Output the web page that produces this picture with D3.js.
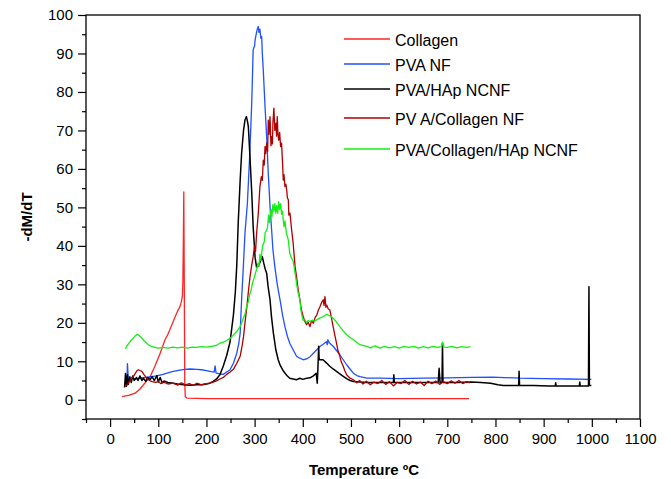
<!DOCTYPE html>
<html>
<head>
<meta charset="utf-8">
<script src="https://cdn.jsdelivr.net/npm/d3@7"></script>
<style>
  html, body { margin: 0; padding: 0; background: #fff; }
  svg { display: block; }
  text { font-family: "Liberation Sans", Arial, sans-serif; }
</style>
</head>
<body>
<svg id="chart" width="671" height="479"></svg>
<script>
// DTG curves: temperature (ºC) and -dM/dT for each sample
const seriesNames = ["Collagen", "PVA NF", "PVA/HAp NCNF", "PV A/Collagen NF", "PVA/Collagen/HAp NCNF"];
const seriesColors = ["#ff2424", "#1f4fff", "#000000", "#b00000", "#14ee14"];

const collagen = [
  [25,0.8],[40,1.2],[52,1.7],[62,2.8],[72,4.3],[83,6],[93,8.7],[104,12.1],[114,15.6],[120,17],
  [124,18.2],[130,20],[135,21.6],[140,23],[145,24.2],[148,25.5],[150,27],[151,30],[152,40],[153,54],
  [154,30],[155,5],[156,0.8],[160,0.4],[200,0.3],[300,0.3],[400,0.3],[500,0.3],[600,0.3],[745,0.3]
];

const pvaNF = [
  [35,4.5],[36,9.4],[38,5.2],[45,5.6],[55,5.4],[62,5.6],[75,5.8],[85,6.0],[97,6.2],[110,6.6],
  [120,7.0],[131,7.4],[145,7.7],[155,7.9],[166,8.0],[180,7.9],[190,7.8],[200,7.6],[210,7.3],[216,7.2],
  [218,8.8],[220,6.9],[228,6.7],[235,6.6],[242,7.2],[249,7.8],[256,9.5],[263,12.1],[267,14.5],[270,17.3],
  [273,26],[276.6,34.6],[280,43.3],[285,51],[290,64],[294,77],[297,91],[300,92],[301,93.5],[304,95.5],
  [306,96.5],[307.7,97],[309,95.5],[311,96.3],[313,94],[314.7,94.4],[316,90],[318,85.7],[321.6,76.2],[325,68.4],
  [328,59.7],[332,50.2],[335.4,44],[338,39],[342,34.6],[347,30],[352.7,26],[358,22],[363,19],[368,16.5],
  [373,14.7],[380,13],[387,11.3],[394,10.8],[401,10.4],[408,10.6],[415,11.2],[422,12.1],[429,13],[436,13.9],
  [443,14.5],[449,15.1],[451,14.3],[452,15.6],[455,14.8],[463,13.9],[470,12.8],[477,11.7],[484,10.4],[491,9.1],
  [498,8],[505,6.9],[512,6.3],[519,6],[533,5.6],[560,5.6],[600,5.5],[650,5.6],[700,5.7],[750,5.8],
  [795,5.9],[850,5.6],[900,5.5],[950,5.4],[999,5.3]
];

const pvaHapNCNF = [
  [30,3.2],[32,6.8],[34,3.5],[36,6.5],[38,4.0],[41,6.0],[44,4.5],[47,6.2],[50,5.0],[55,5.8],
  [58,5.0],[62,6.2],[66,5.0],[69,5.6],[74,4.8],[78,5.8],[83,5.2],[87,6.0],[92,5.0],[97,6.3],
  [100,4.6],[104,5.8],[108,4.4],[112,4.9],[120,4.5],[131,4.3],[140,4.1],[152,3.9],[166,3.8],[180,3.9],
  [190,3.9],[200,4.1],[207,4.3],[214,4.8],[221,5.4],[228,6.5],[235,8.8],[242,11.5],[249,15],[253,19],
  [256,22],[260,28],[263,35],[266,46],[270,57],[273,64],[277,70],[280,72.7],[283,73.6],[285,72.5],
  [287,71],[290,64],[294,54],[297,45],[301,37],[304,34.5],[308,34.8],[312,36],[316,37.2],[319,35.5],
  [322,34],[325,32.9],[328,29.4],[332,26],[335,21.6],[339,17.3],[344,13],[349,10.4],[353,9],[360,7.4],
  [367,6.3],[373,5.6],[380,5.4],[387,5.2],[394,5.6],[400,5.3],[408,5.6],[415,5.7],[422,6.2],[428,6.9],
  [430,4.3],[431,6.8],[433,13.9],[434,10.4],[436,10.4],[442,10.4],[449,9.6],[456,8.7],[463,8],[470,7.4],
  [477,6.7],[484,6.1],[491,5.5],[498,5.0],[505,4.75],[519,4.6],[533,4.5],[560,4.5],[588,4.5],[589,6.5],
  [590,4.5],[620,4.5],[650,4.5],[681,4.5],[683,8.2],[685,4.4],[689,4.6],[690,14.7],[691,4.5],[720,4.5],
  [750,4.6],[770,4.5],[790,4.3],[805,3.9],[816,3.7],[848,3.7],[849,7.4],[850,3.7],[880,3.7],[910,3.6],
  [924,3.6],[925,4.4],[926,3.6],[950,3.6],[974,3.6],[975,4.6],[976,3.6],[993,3.6],[994,29.4],[995,3.7],[999,3.7]
];

const pvaCollagenNF = [
  [30,3.5],[35,3.8],[40,4.8],[44,5.5],[48,6.0],[52,6.8],[56,7.6],[59,7.8],[62,7.6],[66,7.4],
  [70,6.6],[76,5.6],[82,5.0],[87,4.7],[95,4.5],[100,4.8],[105,4.2],[112,4.6],[120,4.1],[131,4.3],
  [140,3.8],[148,4.4],[156,3.9],[165,4.2],[172,3.7],[180,4.3],[190,3.9],[200,4.2],[207,4.3],[214,4.6],
  [221,4.9],[228,5.4],[235,5.8],[242,6.6],[249,7.2],[256,7.9],[263,9.5],[270,11.3],[274,14],[277,16.4],
  [280,20],[284,24.2],[287,28],[290.5,32],[294,35],[297,37.2],[300,40],[302,38.6],[304,43],[307.7,48.5],
  [311,55.4],[314,58],[316,57],[318,62.3],[320,61],[321.6,65.8],[323,64],[325,66.7],[327,64.5],[328.4,72.7],
  [330,69],[332,73.6],[334,66],[335.4,68.4],[337,66.5],[338,72],[340,75.8],[342,70],[344.4,71.9],[345.5,68.5],
  [347,73.6],[348.5,69],[350,67.5],[352,69.5],[354,65.8],[356,66.7],[358,61.5],[359.5,57.1],[361,58.5],[363,55.4],
  [365,56],[366.6,54.5],[368,52.5],[370,52],[371,48],[373.4,48.5],[377,44],[380,40.7],[384,34.6],[387,32],
  [390,29],[394,26],[397,23.5],[401,21.6],[404,20.5],[408,19.5],[411,20.2],[415,19],[418,20.5],[422,19.9],
  [426,21.5],[429,22],[432,23.2],[435.7,24.2],[439,25.3],[442.5,26],[444,24.5],[446,26.8],[448,24],[449.6,24.6],
  [453,23.6],[456,23.4],[460,21],[463,19],[467,16.5],[470,14.7],[473,12.8],[477,11.3],[480,9.8],[484,8.7],
  [487,7.6],[491,6.5],[498,5.6],[505,5.2],[512,4.4],[518,5.0],[525,4.1],[532,4.8],[540,3.9],[548,4.6],
  [556,4.2],[564,5.0],[572,4.0],[580,4.7],[588,3.6],[596,4.5],[604,4.2],[612,5.0],[620,4.0],[628,4.8],
  [636,4.1],[644,4.6],[652,3.7],[660,4.8],[668,4.2],[676,4.9],[684,4.0],[692,4.7],[700,4.2],[708,4.9],
  [716,4.3],[724,5.0],[732,4.2],[740,4.7],[747,4.4]
];

const pvaCollagenHapNCNF = [
  [32,13.2],[35,14],[38,14.5],[42,15.2],[45,15.6],[48,16],[52,16.6],[55,16.9],[58,16.9],[62,16.5],
  [66,16],[70,15.4],[75,14.8],[80,14.2],[85,13.9],[93,13.6],[100,13.4],[110,13.6],[120,13.4],[130,13.7],
  [140,13.5],[150,13.7],[160,13.4],[170,13.7],[180,13.6],[190,13.8],[200,13.7],[210,13.9],[220,14.1],[228,14.7],
  [235,15],[242,15.4],[249,16],[256,16.8],[263,17.8],[270,19],[276,21],[280,22.2],[284,24.6],[287,25.5],
  [290,27.5],[293,28.6],[296,30.5],[299,31.6],[302,33],[304,33.8],[307,35.5],[309,34.6],[311,37.8],[313,36.2],
  [316,39.5],[318,40.5],[320,41],[322,43.5],[325,44],[327,45],[329,48],[331,46],[332,47.6],[334,49.5],
  [336,47.5],[338,50.8],[340,49],[342,51],[344,48.5],[346,50.5],[348,48.5],[350,51.5],[352,49.5],[354,51],
  [356,48.2],[358,49],[360,46],[361,45],[363,46.5],[366,43.3],[368,42.5],[370,41.5],[373,38],[376,37],
  [380,36],[384,33],[387,30.3],[390,28],[394,26],[396,23.5],[398,22],[401,20.6],[404.6,20.8],[408,20],
  [411,20.6],[415,20.3],[420,20.7],[425,20.4],[429,20.8],[435,21.2],[440,21.5],[445,21.8],[449,22.2],[453,22],
  [458,21.7],[463,21.2],[470,20.2],[477,19],[484,17.9],[491,16.9],[498,16.2],[505,15.6],[512,14.9],[519,14.3],
  [526,14.1],[533,13.9],[540,13.5],[550,14],[560,13.4],[570,13.9],[580,13.5],[590,13.8],[600,13.4],[610,13.9],
  [620,13.6],[630,13.9],[640,13.4],[650,13.8],[660,13.5],[670,13.9],[680,13.6],[688,13.8],[690,15],[693,13.7],
  [700,13.6],[710,13.9],[720,13.5],[730,13.8],[740,13.6],[748,13.8]
];

const seriesData = [collagen, pvaNF, pvaHapNCNF, pvaCollagenNF, pvaCollagenHapNCNF];

const xMajorTicks = d3.range(0, 1101, 100);
const xMinorTicks = d3.range(-50, 1100, 100);
const yMajorTicks = d3.range(0, 101, 10);
const yMinorTicks = d3.range(-5, 100, 10);

const svg = d3.select("#chart");
const x = d3.scaleLinear().domain([-50, 1100]).range([86, 640]);
const y = d3.scaleLinear().domain([-5, 100]).range([419, 15]);

// axes
function styleAxis(g) {
  g.select(".domain").remove();
  g.selectAll("line").attr("stroke", "#000").attr("stroke-width", 1.2);
  g.selectAll("text").attr("fill", "#000").attr("font-size", 15)
    .attr("font-family", "'Liberation Sans', Arial, sans-serif");
}

svg.append("g").attr("transform", `translate(0,${y(-5)})`)
  .call(d3.axisBottom(x).tickValues(xMinorTicks).tickSize(4).tickSizeOuter(0).tickFormat(""))
  .call(styleAxis);
svg.append("g").attr("transform", `translate(0,${y(-5)})`)
  .call(d3.axisBottom(x).tickValues(xMajorTicks).tickSize(8).tickSizeOuter(0).tickPadding(6).tickFormat(d3.format("d")))
  .call(styleAxis);
svg.append("g").attr("transform", `translate(${x(-50)},0)`)
  .call(d3.axisLeft(y).tickValues(yMinorTicks).tickSize(4).tickSizeOuter(0).tickFormat(""))
  .call(styleAxis);
svg.append("g").attr("transform", `translate(${x(-50)},0)`)
  .call(d3.axisLeft(y).tickValues(yMajorTicks).tickSize(8).tickSizeOuter(0).tickPadding(5).tickFormat(d3.format("d")))
  .call(styleAxis);

// plot frame
svg.append("rect")
  .attr("x", x(-50)).attr("y", y(100))
  .attr("width", x(1100) - x(-50)).attr("height", y(-5) - y(100))
  .attr("fill", "none").attr("stroke", "#000").attr("stroke-width", 1.3);

// curves
const line = d3.line().x(d => x(d[0])).y(d => y(d[1]));
svg.append("g").selectAll("path")
  .data(seriesData)
  .join("path")
  .attr("d", line)
  .attr("fill", "none")
  .attr("stroke", (d, i) => seriesColors[i])
  .attr("stroke-width", (d, i) => i === 2 ? 1.5 : 1.3)
  .attr("stroke-linejoin", "round");

// legend
const legendY = [39, 64, 89, 118, 149];
const legend = svg.append("g");
seriesNames.forEach((name, i) => {
  legend.append("line")
    .attr("x1", 344).attr("x2", 390)
    .attr("y1", legendY[i]).attr("y2", legendY[i])
    .attr("stroke", seriesColors[i]).attr("stroke-width", 1.5);
  legend.append("text")
    .attr("x", 395).attr("y", legendY[i] + 7)
    .attr("font-size", 16).attr("fill", "#000")
    .text(name);
});

// axis titles
svg.append("text")
  .attr("x", 364).attr("y", 475)
  .attr("text-anchor", "middle").attr("font-size", 15).attr("font-weight", "bold")
  .text("Temperature ºC");
svg.append("text")
  .attr("transform", "translate(32,217) rotate(-90)")
  .attr("text-anchor", "middle").attr("font-size", 15).attr("font-weight", "bold")
  .text("-dM/dT");
</script>
</body>
</html>
